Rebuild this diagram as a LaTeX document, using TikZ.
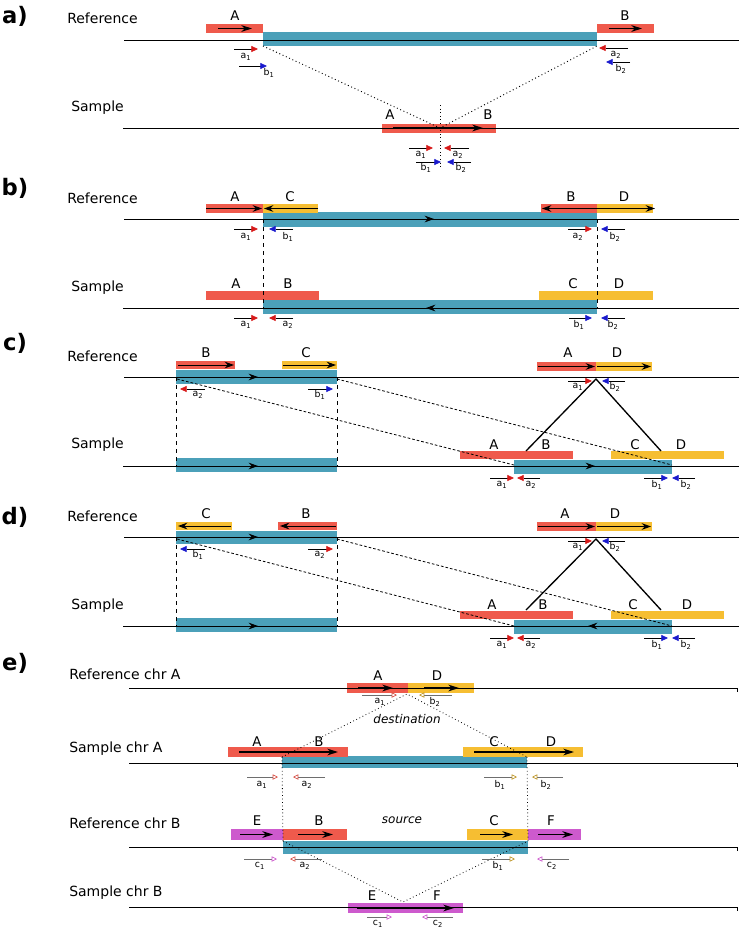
\documentclass[tikz,border=0pt]{standalone}
\usepackage{fontspec}
\setmainfont{DejaVu Sans}
\usetikzlibrary{arrows.meta}
\definecolor{segred}{RGB}{239,90,76}
\definecolor{segteal}{RGB}{75,160,185}
\definecolor{segyel}{RGB}{246,190,50}
\definecolor{segmag}{RGB}{205,90,205}
\definecolor{prred}{RGB}{215,25,25}
\definecolor{prblue}{RGB}{25,25,205}
\definecolor{prolive}{RGB}{190,150,40}
\definecolor{prsalm}{RGB}{215,80,70}
\definecolor{prgray}{RGB}{110,110,110}
\begin{document}
\begin{tikzpicture}[x=0.75pt,y=0.75pt,yscale=-1,xscale=1,
  chrom/.style={line width=0.75pt},
  segarr/.style={line width=1.1pt,-{Stealth[length=8pt,width=5pt]}},
  midarr/.style={line width=0.75pt,-{Stealth[length=7pt,width=5pt]}},
  primR/.style={line width=0.5pt,-{Triangle[length=5pt,width=4.5pt,color=prred]}},
  primB/.style={line width=0.5pt,-{Triangle[length=5pt,width=4.5pt,color=prblue]}},
  primE/.style={line width=0.5pt,draw=prgray,-{Triangle[open,length=4pt,width=4pt,color=#1]}},
  rowlab/.style={anchor=west,inner sep=0pt,font=\fontsize{10.5}{12}\selectfont},
  seglab/.style={inner sep=0pt,font=\fontsize{10}{12}\selectfont},
  plab/.style={inner sep=0pt,font=\fontsize{7}{8}\selectfont},
  panlab/.style={inner sep=0pt,font=\bfseries\fontsize{17}{20}\selectfont},
  tag/.style={inner sep=0pt,font=\itshape\fontsize{9}{11}\selectfont}
]
\useasboundingbox (0,0) rectangle (739,929);

%%%%%%%%%%%%%%%%%%%%%%%% a)
% Text Node
\node[panlab] (pa) at (15,16) {a)};
\node[rowlab] (refa) at (67,18) {Reference};
\node[rowlab] (smpa) at (71,108) {Sample};
%Shape: Rectangle
\fill[segteal] (263,32) rectangle (597,46);
\fill[segred] (206,24) rectangle (263,33);
\fill[segred] (597,24) rectangle (654,33);
\fill[segred] (382,124) rectangle (496,133);
%Straight Lines
\draw[chrom] (124,40) -- (739,40);
\draw[chrom] (123,128) -- (739,128);
\draw[segarr] (218,28.5) -- (252,28.5);
\draw[segarr] (609,28.5) -- (642,28.5);
\draw[segarr] (393,128) -- (483,128);
% dotted
\coordinate (aL) at (263,46);
\coordinate (aR) at (597,46);
\coordinate (aJ) at (440,128);
\draw[dotted,line width=0.7pt] (aL) -- (aJ) -- (aR);
\draw[dotted,line width=0.7pt] (440,105) -- (440,168);
% primers
\draw[primR] (234,49) -- (258,49);
\draw[primB] (239,66) -- (267,66);
\draw[primR] (628,48) -- (599,48);
\draw[primB] (630,62) -- (606,62);
\draw[primR] (409,148) -- (433,148);
\draw[primR] (469,148) -- (444,148);
\draw[primB] (416,162) -- (441,162);
\draw[primB] (471,162) -- (447,162);
% Text Node
\node[seglab] (aA) at (235,16) {A};
\node[seglab] (aB) at (625,16) {B};
\node[seglab] (aA2) at (390,115) {A};
\node[seglab] (aB2) at (488,115) {B};
\node[plab] (aa1) at (246,57) {a\textsubscript{1}};
\node[plab] (ab1) at (269,73) {b\textsubscript{1}};
\node[plab] (aa2) at (616,55) {a\textsubscript{2}};
\node[plab] (ab2) at (621,69) {b\textsubscript{2}};
\node[plab] (aa1s) at (421,155) {a\textsubscript{1}};
\node[plab] (aa2s) at (458,155) {a\textsubscript{2}};
\node[plab] (ab1s) at (426,168) {b\textsubscript{1}};
\node[plab] (ab2s) at (461,168) {b\textsubscript{2}};

%%%%%%%%%%%%%%%%%%%%%%%% b)
% Text Node
\node[panlab] (pb) at (15,188) {b)};
\node[rowlab] (refb) at (67,198) {Reference};
\node[rowlab] (smpb) at (71,288) {Sample};
%Shape: Rectangle
\fill[segteal] (263,212) rectangle (597,227);
\fill[segred] (206,204) rectangle (263,213);
\fill[segyel] (263,204) rectangle (318,213);
\fill[segred] (541,204) rectangle (597,213);
\fill[segyel] (597,204) rectangle (653,213);
\fill[segteal] (263,300) rectangle (597,314);
\fill[segred] (206,291) rectangle (263,300);
\fill[segred] (263,291) rectangle (319,300);
\fill[segyel] (539,291) rectangle (597,300);
\fill[segyel] (597,291) rectangle (653,300);
%Straight Lines
\draw[chrom] (124,219) -- (739,219);
\draw[chrom] (123,308) -- (739,308);
\draw[midarr] (415,219) -- (434,219);
\draw[midarr] (445,308) -- (426,308);
\draw[line width=0.75pt,-{Stealth[length=7pt,width=5pt]}] (206,208.5) -- (262,208.5);
\draw[line width=0.75pt,-{Stealth[length=7pt,width=5pt]}] (318,208.5) -- (264,208.5);
\draw[line width=0.75pt,-{Stealth[length=7pt,width=5pt]}] (597,208.5) -- (542,208.5);
\draw[line width=0.75pt,-{Stealth[length=7pt,width=5pt]}] (597,208.5) -- (655,208.5);
\draw[dashed,line width=0.6pt] (263,219) -- (263,308);
\draw[dashed,line width=0.6pt] (597,219) -- (597,308);
% primers
\draw[primR] (234,229) -- (258,229);
\draw[primB] (293,229) -- (269,229);
\draw[primR] (568,229) -- (592,229);
\draw[primB] (625,229) -- (601,229);
\draw[primR] (234,318) -- (258,318);
\draw[primR] (293,318) -- (269,318);
\draw[primB] (569,318) -- (592,318);
\draw[primB] (625,318) -- (601,318);
% Text Node
\node[seglab] (bA) at (235,197) {A};
\node[seglab] (bC) at (290,197) {C};
\node[seglab] (bB) at (571,197) {B};
\node[seglab] (bD) at (624,197) {D};
\node[seglab] (bA2) at (236,284) {A};
\node[seglab] (bB2) at (288,284) {B};
\node[seglab] (bC2) at (573,284) {C};
\node[seglab] (bD2) at (619,284) {D};
\node[plab] (ba1) at (246,237) {a\textsubscript{1}};
\node[plab] (bb1) at (288,237) {b\textsubscript{1}};
\node[plab] (ba2) at (578,237) {a\textsubscript{2}};
\node[plab] (bb2) at (615,237) {b\textsubscript{2}};
\node[plab] (ba1s) at (246,325) {a\textsubscript{1}};
\node[plab] (ba2s) at (288,325) {a\textsubscript{2}};
\node[plab] (bb1s) at (579,325) {b\textsubscript{1}};
\node[plab] (bb2s) at (613,325) {b\textsubscript{2}};

%%%%%%%%%%%%%%%%%%%%%%%% c)
% Text Node
\node[panlab] (pc) at (15,343) {c)};
\node[rowlab] (refc) at (67,356) {Reference};
\node[rowlab] (smpc) at (71,445) {Sample};
%Shape: Rectangle
\fill[segteal] (176,370) rectangle (337,384);
\fill[segred] (176,361) rectangle (235,369);
\fill[segyel] (282,361) rectangle (337,369);
\fill[segred] (537,362) rectangle (596,371);
\fill[segyel] (596,362) rectangle (652,371);
\fill[segteal] (176,458) rectangle (337,472);
\fill[segred] (460,451) rectangle (573,459);
\fill[segyel] (611,451) rectangle (724,459);
\fill[segteal] (514,460) rectangle (672,474);
%Straight Lines
\draw[chrom] (124,377) -- (739,377);
\draw[chrom] (123,466) -- (739,466);
\draw[midarr] (240,377) -- (258,377);
\draw[midarr] (240,466) -- (258,466);
\draw[midarr] (577,466) -- (595,466);
\draw[line width=0.75pt,-{Stealth[length=7pt,width=5pt]}] (178,365) -- (234,365);
\draw[line width=0.75pt,-{Stealth[length=7pt,width=5pt]}] (283,365) -- (336,365);
\draw[line width=0.75pt,-{Stealth[length=7pt,width=5pt]}] (538,366.5) -- (595,366.5);
\draw[line width=0.75pt,-{Stealth[length=7pt,width=5pt]}] (597,366.5) -- (651,366.5);
\draw[dashed,line width=0.6pt] (176,377) -- (176,466);
\draw[dashed,line width=0.6pt] (337,377) -- (337,466);
\coordinate (cL) at (177,379);
\coordinate (cR) at (337,379);
\coordinate (cLs) at (514,465);
\coordinate (cRs) at (672,465);
\draw[dashed,line width=0.6pt,dash pattern=on 2pt off 1.5pt] (cL) -- (cLs);
\draw[dashed,line width=0.6pt,dash pattern=on 2pt off 1.5pt] (cR) -- (cRs);
\coordinate (cT) at (596,379);
\coordinate (cBl) at (526,451);
\coordinate (cBr) at (661,451);
\draw[line width=1pt] (cBl) -- (cT) -- (cBr);
% primers
\draw[primR] (205,389) -- (180,389);
\draw[primB] (308,389) -- (333,389);
\draw[primR] (568,381) -- (592,381);
\draw[primB] (625,381) -- (602,381);
\draw[primR] (490,478) -- (514,478);
\draw[primR] (540,478) -- (517,478);
\draw[primB] (644,478) -- (668,478);
\draw[primB] (695,478) -- (672,478);
% Text Node
\node[seglab] (cB) at (206,353) {B};
\node[seglab] (cC) at (306,353) {C};
\node[seglab] (cA) at (568,353) {A};
\node[seglab] (cD) at (617,353) {D};
\node[seglab] (cA2) at (494,445) {A};
\node[seglab] (cB2) at (546,445) {B};
\node[seglab] (cC2) at (635,445) {C};
\node[seglab] (cD2) at (681,445) {D};
\node[plab] (ca2) at (198,395) {a\textsubscript{2}};
\node[plab] (cb1) at (320,395) {b\textsubscript{1}};
\node[plab] (ca1) at (578,387) {a\textsubscript{1}};
\node[plab] (cb2) at (615,387) {b\textsubscript{2}};
\node[plab] (ca1s) at (502,485) {a\textsubscript{1}};
\node[plab] (ca2s) at (531,485) {a\textsubscript{2}};
\node[plab] (cb1s) at (657,485) {b\textsubscript{1}};
\node[plab] (cb2s) at (686,485) {b\textsubscript{2}};

%%%%%%%%%%%%%%%%%%%%%%%% d)
% Text Node
\node[panlab] (pd) at (15,517) {d)};
\node[rowlab] (refd) at (67,516) {Reference};
\node[rowlab] (smpd) at (71,606) {Sample};
%Shape: Rectangle
\fill[segteal] (176,531) rectangle (337,544);
\fill[segyel] (176,522) rectangle (232,530);
\fill[segred] (278,522) rectangle (337,530);
\fill[segred] (537,522) rectangle (596,531);
\fill[segyel] (596,522) rectangle (652,531);
\fill[segteal] (176,618) rectangle (337,632);
\fill[segred] (460,611) rectangle (573,619);
\fill[segyel] (611,611) rectangle (724,619);
\fill[segteal] (514,620) rectangle (672,634);
%Straight Lines
\draw[chrom] (124,537) -- (739,537);
\draw[chrom] (123,626) -- (739,626);
\draw[midarr] (240,537) -- (258,537);
\draw[midarr] (240,626) -- (258,626);
\draw[midarr] (606,626) -- (588,626);
\draw[line width=0.75pt,-{Stealth[length=7pt,width=5pt]}] (231,526) -- (178,526);
\draw[line width=0.75pt,-{Stealth[length=7pt,width=5pt]}] (336,526) -- (280,526);
\draw[line width=0.75pt,-{Stealth[length=7pt,width=5pt]}] (538,526.5) -- (595,526.5);
\draw[line width=0.75pt,-{Stealth[length=7pt,width=5pt]}] (597,526.5) -- (651,526.5);
\draw[dashed,line width=0.6pt] (176,537) -- (176,626);
\draw[dashed,line width=0.6pt] (337,537) -- (337,626);
\coordinate (dL) at (177,539);
\coordinate (dR) at (337,539);
\coordinate (dLs) at (514,626);
\coordinate (dRs) at (672,626);
\draw[dashed,line width=0.6pt,dash pattern=on 2pt off 1.5pt] (dL) -- (dLs);
\draw[dashed,line width=0.6pt,dash pattern=on 2pt off 1.5pt] (dR) -- (dRs);
\coordinate (dT) at (596,539);
\coordinate (dBl) at (526,610);
\coordinate (dBr) at (661,610);
\draw[line width=1pt] (dBl) -- (dT) -- (dBr);
% primers
\draw[primB] (205,549) -- (180,549);
\draw[primR] (308,549) -- (333,549);
\draw[primR] (568,541) -- (592,541);
\draw[primB] (625,541) -- (602,541);
\draw[primR] (490,638) -- (514,638);
\draw[primR] (540,638) -- (517,638);
\draw[primB] (644,638) -- (668,638);
\draw[primB] (695,638) -- (672,638);
% Text Node
\node[seglab] (dC) at (206,514) {C};
\node[seglab] (dB) at (306,514) {B};
\node[seglab] (dA) at (565,514) {A};
\node[seglab] (dD) at (615,514) {D};
\node[seglab] (dA2) at (492,605) {A};
\node[seglab] (dB2) at (543,605) {B};
\node[seglab] (dC2) at (633,605) {C};
\node[seglab] (dD2) at (687,605) {D};
\node[plab] (db1) at (198,555) {b\textsubscript{1}};
\node[plab] (da2) at (320,555) {a\textsubscript{2}};
\node[plab] (da1) at (578,547) {a\textsubscript{1}};
\node[plab] (db2) at (615,547) {b\textsubscript{2}};
\node[plab] (da1s) at (502,645) {a\textsubscript{1}};
\node[plab] (da2s) at (531,645) {a\textsubscript{2}};
\node[plab] (db1s) at (657,645) {b\textsubscript{1}};
\node[plab] (db2s) at (686,645) {b\textsubscript{2}};

%%%%%%%%%%%%%%%%%%%%%%%% e)
% Text Node
\node[panlab] (pe) at (15,663) {e)};
\node[rowlab] (refea) at (69,674) {Reference chr A};
\node[rowlab] (smpea) at (69,749) {Sample chr A};
\node[rowlab] (refeb) at (69,823) {Reference chr B};
\node[rowlab] (smpeb) at (69,893) {Sample chr B};
\node[tag] (dest) at (407,719) {destination};
\node[tag] (src) at (402,820) {source};
%Shape: Rectangle
\fill[segred] (347,683) rectangle (408,693);
\fill[segyel] (408,683) rectangle (474,693);
\fill[segteal] (282,756) rectangle (527,768);
\fill[segred] (228,747) rectangle (348,757);
\fill[segyel] (463,747) rectangle (583,757);
\fill[segteal] (283,841) rectangle (528,854);
\fill[segmag] (231,829) rectangle (283,840);
\fill[segred] (283,829) rectangle (347,840);
\fill[segyel] (467,829) rectangle (528,840);
\fill[segmag] (528,829) rectangle (581,840);
\fill[segmag] (348,903) rectangle (463,913);
%Straight Lines
\draw[chrom] (129,688) -- (737,688) -- (737,692);
\draw[chrom] (129,763) -- (737,763) -- (737,767);
\draw[chrom] (129,847) -- (737,847) -- (737,851);
\draw[chrom] (129,907) -- (737,907) -- (737,911);
\draw[segarr] (358,688) -- (393,688);
\draw[segarr] (424,688) -- (459,688);
\draw[segarr] (239,752) -- (338,752);
\draw[segarr] (474,752) -- (574,752);
\draw[segarr] (240,834.5) -- (273,834.5);
\draw[segarr] (298,834.5) -- (333,834.5);
\draw[segarr] (480,834.5) -- (513,834.5);
\draw[segarr] (538,834.5) -- (573,834.5);
\draw[segarr] (357,908) -- (454,908);
% dotted
\coordinate (eTa) at (407,694);
\coordinate (eLa) at (282,757);
\coordinate (eRa) at (527,757);
\coordinate (eLb) at (283,841);
\coordinate (eRb) at (528,841);
\coordinate (eTb) at (403,902);
\draw[dotted,line width=0.6pt] (eLa) -- (eTa) -- (eRa);
\draw[dotted,line width=0.6pt] (eLa) -- (eLb);
\draw[dotted,line width=0.6pt] (eRa) -- (eRb);
\draw[dotted,line width=0.6pt] (eLb) -- (eTb) -- (eRb);
% primers
\draw[primE=prsalm] (362,695) -- (397,695);
\draw[primE=prolive] (452,695) -- (419,695);
\draw[primE=prsalm] (247,777) -- (278,777);
\draw[primE=prsalm] (325,777) -- (293,777);
\draw[primE=prolive] (484,777) -- (517,777);
\draw[primE=prolive] (563,777) -- (532,777);
\draw[primE=segmag] (244,859) -- (277,859);
\draw[primE=prsalm] (322,859) -- (290,859);
\draw[primE=prolive] (482,859) -- (515,859);
\draw[primE=segmag] (569,859) -- (537,859);
\draw[primE=segmag] (367,917) -- (392,917);
\draw[primE=segmag] (453,917) -- (422,917);
% Text Node
\node[seglab] (eA) at (378,676) {A};
\node[seglab] (eD) at (437,676) {D};
\node[seglab] (eA2) at (257,742) {A};
\node[seglab] (eB2) at (319,742) {B};
\node[seglab] (eC2) at (494,742) {C};
\node[seglab] (eD2) at (551,742) {D};
\node[seglab] (eE3) at (257,821) {E};
\node[seglab] (eB3) at (319,821) {B};
\node[seglab] (eC3) at (494,821) {C};
\node[seglab] (eF3) at (551,821) {F};
\node[seglab] (eE4) at (372,896) {E};
\node[seglab] (eF4) at (437,896) {F};
\node[plab] (ea1) at (380,702) {a\textsubscript{1}};
\node[plab] (eb2) at (435,702) {b\textsubscript{2}};
\node[plab] (ea1s) at (262,785) {a\textsubscript{1}};
\node[plab] (ea2s) at (307,785) {a\textsubscript{2}};
\node[plab] (eb1s) at (500,785) {b\textsubscript{1}};
\node[plab] (eb2s) at (546,785) {b\textsubscript{2}};
\node[plab] (ec1) at (260,866) {c\textsubscript{1}};
\node[plab] (ea2r) at (305,866) {a\textsubscript{2}};
\node[plab] (eb1r) at (498,866) {b\textsubscript{1}};
\node[plab] (ec2) at (552,866) {c\textsubscript{2}};
\node[plab] (ec1s) at (378,924) {c\textsubscript{1}};
\node[plab] (ec2s) at (438,924) {c\textsubscript{2}};

\end{tikzpicture}
\end{document}
